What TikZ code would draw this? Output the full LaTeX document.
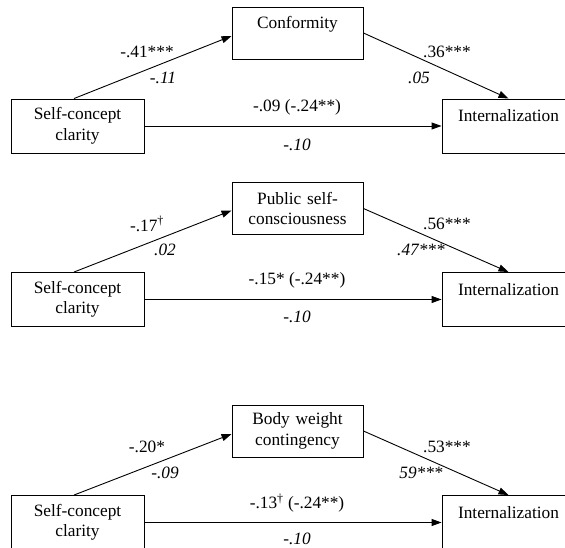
\documentclass[tikz,border=0pt]{standalone}
\usepackage{fontspec}
\setmainfont{Liberation Serif}
\usetikzlibrary{arrows.meta}
\tikzstyle{block} = [align=center,draw=black,rectangle,text centered,text width=125pt,minimum height=54pt,inner xsep=4pt,inner ysep=0pt,font=\fontsize{17.3}{20.5}\selectfont]
\tikzstyle{mediator} = [block,text width=123pt,minimum height=52pt]
\tikzstyle{coef} = [align=center,inner sep=0pt,font=\fontsize{17.3}{20.5}\selectfont]
\tikzstyle{coefit} = [coef,font=\fontsize{17.3}{20.5}\selectfont\itshape]
\begin{document}
\begin{tikzpicture}[x=1pt,y=1pt,node distance=431pt,line width=0.9pt,>={Triangle[length=10pt,width=7pt]}]
				\useasboundingbox (0,0) rectangle (565,548);
				\clip (0,0) rectangle (565,548);
				% conformity
				\node (scc1) [block] at (77.5,422) {Self-concept\\clarity};
				\node (int1) [block,right of=scc1] {Internalization\\~};
				\node (conf) [mediator] at (297.5,515) {Conformity\\~};
				\draw [->] ([xshift=-3.5pt]scc1.north) -- ([yshift=-3pt]conf.west);
				\draw [->] (conf.east) -- (int1.north);
				\draw [->] (scc1.east) -- (int1.west);
				\node (a1) [coef] at (147,496) {-.41***};
				\node (a1c) [coefit] at (163,470) {-.11};
				\node (b1) [coef] at (447,496) {.36***};
				\node (b1c) [coefit] at (419,470) {.05};
				\node (c1) [coef] at (297,441) {-.09 (-.24**)};
				\node (c1c) [coefit] at (297,403) {-.10};
				% public self-consciousness
				\node (scc2) [block] at (77.5,248.5) {Self-concept\\clarity};
				\node (int2) [block,right of=scc2] {Internalization\\~};
				\node (pub) [mediator] at (297.5,339.5) {Public self-\\consciousness};
				\draw [->] ([xshift=-3.5pt]scc2.north) -- ([yshift=-2pt]pub.west);
				\draw [->] (pub.east) -- (int2.north);
				\draw [->] (scc2.east) -- (int2.west);
				\node (a2) [coef] at (147,324) {-.17\textsuperscript{†}};
				\node (a2c) [coefit] at (165,298) {.02};
				\node (b2) [coef] at (447,324) {.56***};
				\node (b2c) [coefit] at (421,298) {.47***};
				\node (c2) [coef] at (297,268) {-.15* (-.24**)};
				\node (c2c) [coefit] at (297,231) {-.10};
				% body weight contingency
				\node (scc3) [block] at (77.5,25.5) {Self-concept\\clarity};
				\node (int3) [block,right of=scc3] {Internalization\\~};
				\node (bwc) [mediator] at (297.5,117) {Body weight\\contingency};
				\draw [->] ([xshift=-3.5pt]scc3.north) -- ([yshift=-3pt]bwc.west);
				\draw [->] (bwc.east) -- (int3.north);
				\draw [->] (scc3.east) -- (int3.west);
				\node (a3) [coef] at (147,101) {-.20*};
				\node (a3c) [coefit] at (165,75) {-.09};
				\node (b3) [coef] at (447,101) {.53***};
				\node (b3c) [coefit] at (421,75) {59***};
				\node (c3) [coef] at (297,45) {-.13\textsuperscript{†} (-.24**)};
				\node (c3c) [coefit] at (297,9) {-.10};
			\end{tikzpicture}
\end{document}
